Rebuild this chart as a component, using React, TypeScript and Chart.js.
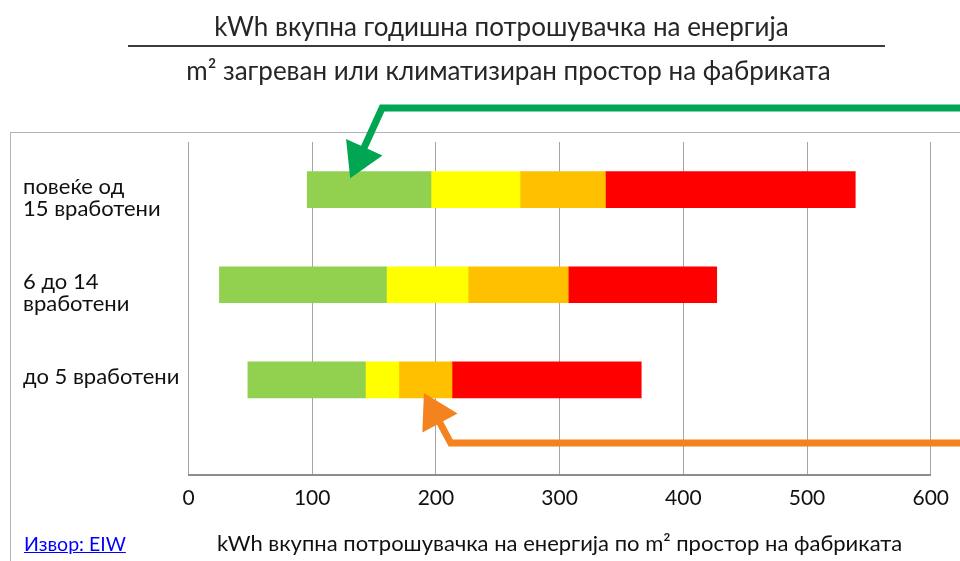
import React, { useEffect, useRef } from 'react';
import { Chart, registerables } from 'chart.js';

Chart.register(...registerables);

// ---- data ----
const categories: string[][] = [
  ['повеќе од', '15 вработени'],
  ['6 до 14', 'вработени'],
  ['до 5 вработени'],
];
const categoryIndex = [0, 1, 2];
const rangeStart = [96, 25, 48];
const greenEnd = [196, 160, 143];
const yellowEnd = [268, 226, 170];
const orangeEnd = [337, 307, 213];
const redEnd = [539, 427, 366];
const segmentColors = ['#92D050', '#FFFF00', '#FFC000', '#FF0000'];
const segmentNames = ['A', 'B', 'C', 'D'];
const xTickValues = [0, 100, 200, 300, 400, 500, 600];

const titleTop = 'kWh вкупна годишна потрошувачка на енергија';
const titleBottom = 'm² загреван или климатизиран простор на фабриката';
const xTitle = 'kWh вкупна потрошувачка на енергија по m² простор на фабриката';
const sourceText = 'Извор: EIW';

// annotation arrows, in data units (x = kWh/m², y = category position)
const greenArrow = [{ x: 700, y: -0.857 }, { x: 156.5, y: -0.857 }, { x: 130.7, y: -0.12 }];
const orangeArrow = [{ x: 700, y: 2.664 }, { x: 212, y: 2.664 }, { x: 190.3, y: 2.138 }];

const FONT = 'Lato';

function drawArrow(chart: any, pts: { x: number; y: number }[], color: string) {
  const ctx = chart.ctx;
  const xs = chart.scales.x;
  const ys = chart.scales.y;
  const p = pts.map((q) => ({ x: xs.getPixelForValue(q.x), y: ys.getPixelForValue(q.y) }));
  const tip = p[p.length - 1];
  const prev = p[p.length - 2];
  const dx = tip.x - prev.x;
  const dy = tip.y - prev.y;
  const len = Math.hypot(dx, dy);
  const ux = dx / len;
  const uy = dy / len;
  const headLen = 34;
  const headHalf = 20;
  const base = { x: tip.x - ux * headLen, y: tip.y - uy * headLen };
  ctx.save();
  ctx.strokeStyle = color;
  ctx.lineWidth = 7;
  ctx.lineJoin = 'miter';
  ctx.beginPath();
  ctx.moveTo(p[0].x, p[0].y);
  for (let i = 1; i < p.length - 1; i++) ctx.lineTo(p[i].x, p[i].y);
  ctx.lineTo(base.x + ux * 3, base.y + uy * 3);
  ctx.stroke();
  ctx.fillStyle = color;
  ctx.beginPath();
  ctx.moveTo(tip.x, tip.y);
  ctx.lineTo(base.x - uy * headHalf, base.y + ux * headHalf);
  ctx.lineTo(base.x + uy * headHalf, base.y - ux * headHalf);
  ctx.closePath();
  ctx.fill();
  ctx.restore();
}

const decorPlugin = {
  id: 'decor',
  beforeDraw(chart: any) {
    const ctx = chart.ctx;
    ctx.save();
    ctx.strokeStyle = '#b4b4b4';
    ctx.lineWidth = 1;
    ctx.strokeRect(10.5, 132.5, 2000, 2000);
    ctx.restore();
  },
  afterDatasetsDraw(chart: any) {
    drawArrow(chart, greenArrow, '#00A651');
    drawArrow(chart, orangeArrow, '#F4821F');
  },
};

export default function App() {
  const canvasRef = useRef<HTMLCanvasElement | null>(null);

  useEffect(() => {
    const bounds = [rangeStart, greenEnd, yellowEnd, orangeEnd, redEnd];
    const datasets = segmentColors.map((color, k) => ({
      label: segmentNames[k],
      data: categoryIndex.map((i) => ({ y: i, x: [bounds[k][i], bounds[k + 1][i]] })),
      backgroundColor: color,
      borderWidth: 0,
      barThickness: 36,
      grouped: false,
    }));

    const chart = new Chart(canvasRef.current as HTMLCanvasElement, {
      type: 'bar',
      data: { datasets } as any,
      plugins: [decorPlugin],
      options: {
        animation: false,
        responsive: true,
        maintainAspectRatio: false,
        indexAxis: 'y',
        layout: { padding: { left: 23, top: 142, right: 25.7, bottom: 0 } },
        plugins: { legend: { display: false }, tooltip: { enabled: false } },
        scales: {
          x: {
            type: 'linear',
            min: 0,
            max: 600,
            afterBuildTicks: (s: any) => { s.ticks = xTickValues.map((v) => ({ value: v })); },
            afterFit: (s: any) => { s.height = 86; },
            grid: { color: '#a6a6a6', lineWidth: 1, drawTicks: false },
            border: { display: true, color: '#8c8c8c', width: 2 },
            ticks: { color: '#111', padding: 11, font: { family: FONT, size: 21, lineHeight: 1.2 } },
            title: {
              display: true,
              text: xTitle,
              color: '#111',
              font: { family: FONT, size: 22, lineHeight: 1.2 },
              padding: { top: 0, bottom: 4 },
            },
          },
          y: {
            type: 'linear',
            min: -0.5,
            max: 3,
            reverse: true,
            offset: false,
            afterBuildTicks: (s: any) => { s.ticks = categoryIndex.map((v) => ({ value: v })); },
            afterFit: (s: any) => { s.width = 188.5 - 23; },
            grid: { display: false, drawTicks: false },
            border: { display: false },
            ticks: {
              color: '#111',
              crossAlign: 'far',
              padding: 0,
              labelOffset: -3,
              font: { family: FONT, size: 22, lineHeight: 1.0 },
              callback: (v: any) => {
                const lines = categories[v as number];
                if (!lines) return '';
                return lines.length > 1 ? ['', ...lines] : lines[0];
              },
            },
          },
        },
      } as any,
    });

    return () => chart.destroy();
  }, []);

  const textStyle: React.CSSProperties = {
    position: 'absolute',
    whiteSpace: 'nowrap',
    fontFamily: FONT,
    color: '#262626',
  };

  return (
    <div style={{ position: 'absolute', left: 0, top: 0, width: 960, height: 561, background: '#fff', overflow: 'hidden' }}>
      <div style={{ position: 'absolute', left: 0, top: 0, width: 960, height: 561 }}>
        <canvas ref={canvasRef} />
      </div>
      <div style={{ ...textStyle, left: 501.5, top: 11, fontSize: 26, lineHeight: '31px', transform: 'translateX(-50%)' }}>
        {titleTop}
      </div>
      <div style={{ position: 'absolute', left: 128, top: 45, width: 757, height: 2, background: '#3c3c3c' }} />
      <div style={{ ...textStyle, left: 508.5, top: 55, fontSize: 26, lineHeight: '31px', transform: 'translateX(-50%)' }}>
        {titleBottom}
      </div>
      <a
        href="#"
        style={{ ...textStyle, left: 24, top: 532, fontSize: 19.5, lineHeight: '24px', color: '#0000ff', textDecoration: 'underline' }}
      >
        {sourceText}
      </a>
    </div>
  );
}
